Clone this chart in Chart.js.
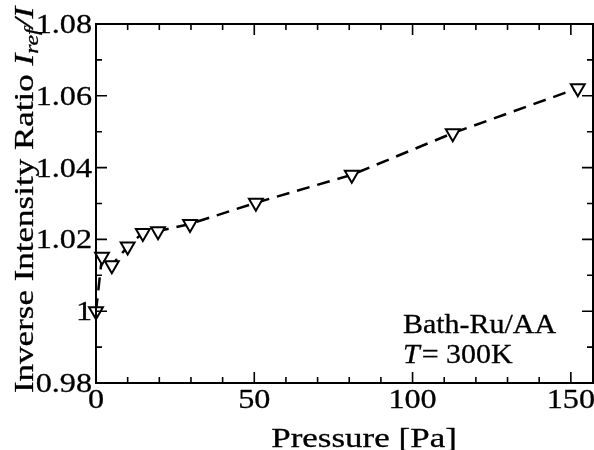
<!DOCTYPE html>
<html>
<head>
<meta charset="utf-8">
<script src="https://cdn.jsdelivr.net/npm/chart.js@4/dist/chart.umd.min.js"></script>
<style>
  html, body { margin: 0; padding: 0; background: #fff; }
  #wrap { width: 594px; height: 450px; }
  .preload { position: absolute; left: -999px; font-family: "Liberation Serif"; }
</style>
</head>
<body>
<span class="preload">Abc <i>Italic</i></span>
<div id="wrap"><canvas id="chart" width="594" height="450"></canvas></div>
<script>
// data
const pressure = [0, 1.9, 5, 10, 14.8, 19.6, 29.7, 50.5, 80.8, 112.7, 152.2];
const ratio = [1.000, 1.0152, 1.0128, 1.018, 1.0218, 1.0223, 1.0243, 1.0302, 1.0380, 1.0496, 1.0621];

const xTickValues = [0, 50, 100, 150];
const xTickLabels = ['0', '50', '100', '150'];
const yTickValues = [0.98, 1, 1.02, 1.04, 1.06, 1.08];
const yTickLabels = ['0.98', '1', '1.02', '1.04', '1.06', '1.08'];

const X_MIN = 0, X_MAX = 157;
const Y_MIN = 0.98, Y_MAX = 1.08;
const SERIF = '"Liberation Serif", serif';

function drawText(ctx, text, x, y, font, align, sx) {
    ctx.save();
    ctx.translate(x, y);
    ctx.scale(sx || 1, 1);
    ctx.font = font;
    ctx.textAlign = align || 'left';
    ctx.textBaseline = 'alphabetic';
    ctx.fillStyle = '#000';
    ctx.strokeStyle = '#000';
    ctx.lineWidth = 0.3;
    ctx.fillText(text, 0, 0);
    ctx.strokeText(text, 0, 0);
    ctx.restore();
}

// frame, inward ticks, labels and annotation
const framePlugin = {
    id: 'frame',
    afterDraw(chart) {
        const ctx = chart.ctx;
        const a = chart.chartArea;
        const xs = chart.scales.x, ys = chart.scales.y;

        ctx.save();
        ctx.strokeStyle = '#000';
        ctx.lineWidth = 2;
        ctx.strokeRect(a.left, a.top, a.right - a.left, a.bottom - a.top);

        ctx.lineWidth = 1.6;
        ctx.beginPath();
        for (let i = 0; i * 10 <= X_MAX; i++) {
            const px = xs.getPixelForValue(i * 10);
            const len = (i % 5 === 0) ? 11 : 6;
            ctx.moveTo(px, a.bottom); ctx.lineTo(px, a.bottom - len);
            ctx.moveTo(px, a.top); ctx.lineTo(px, a.top + len);
        }
        for (let i = 0; i <= 10; i++) {
            const py = ys.getPixelForValue(Y_MIN + i * 0.01);
            const len = (i % 2 === 0) ? 11 : 6;
            ctx.moveTo(a.left, py); ctx.lineTo(a.left + len, py);
            ctx.moveTo(a.right, py); ctx.lineTo(a.right - len, py);
        }
        ctx.stroke();
        ctx.restore();

        const tickFont = '28px ' + SERIF;
        xTickValues.forEach((v, i) => {
            drawText(ctx, xTickLabels[i], xs.getPixelForValue(v), 408, tickFont, 'center', 1.15);
        });
        yTickValues.forEach((v, i) => {
            drawText(ctx, yTickLabels[i], 92, ys.getPixelForValue(v) + 9, tickFont, 'right', 1.15);
        });

        // x title
        drawText(ctx, 'Pressure [Pa]', 364, 447, '28px ' + SERIF, 'center', 1.25);

        // y title with italic I_ref / I
        const segs = [
            { t: 'Inverse Intensity Ratio ', f: '28px ' + SERIF, dy: 0 },
            { t: 'I', f: 'italic 28px ' + SERIF, dy: 0 },
            { t: 'ref', f: 'italic 19px ' + SERIF, dy: 5 },
            { t: '/I', f: 'italic 28px ' + SERIF, dy: 0 }
        ];
        const sy = 1.25;
        ctx.save();
        let total = 0;
        segs.forEach(s => { ctx.font = s.f; s.w = ctx.measureText(s.t).width * sy; total += s.w; });
        ctx.translate(33, 200);
        ctx.rotate(-Math.PI / 2);
        let cx = -total / 2;
        segs.forEach(s => {
            drawText(ctx, s.t, cx, s.dy, s.f, 'left', sy);
            cx += s.w;
        });
        ctx.restore();

        // annotation
        drawText(ctx, 'Bath-Ru/AA', 403, 333, '28px ' + SERIF, 'left', 1.07);
        ctx.save();
        ctx.font = 'italic 28px ' + SERIF;
        const tw = ctx.measureText('T').width * 1.07;
        ctx.restore();
        drawText(ctx, 'T', 403, 363, 'italic 28px ' + SERIF, 'left', 1.07);
        drawText(ctx, '= 300K', 403 + tw + 2, 363, '28px ' + SERIF, 'left', 1.07);
    }
};

function buildChart() {
    new Chart(document.getElementById('chart'), {
        type: 'scatter',
        data: {
            datasets: [{
                data: pressure.map((p, i) => ({ x: p, y: ratio[i] })),
                showLine: true,
                borderColor: '#000',
                borderWidth: 2.5,
                borderDash: [13, 8],
                pointStyle: 'triangle',
                rotation: 180,
                pointRadius: 8,
                pointBorderWidth: 2,
                pointBorderColor: '#000',
                pointBackgroundColor: '#fff',
                clip: false
            }]
        },
        options: {
            responsive: false,
            animation: false,
            layout: { autoPadding: false, padding: { top: 24, right: 1, left: 0, bottom: 0 } },
            plugins: { legend: { display: false }, tooltip: { enabled: false } },
            scales: {
                x: {
                    type: 'linear', min: X_MIN, max: X_MAX,
                    grid: { display: false, drawTicks: false },
                    border: { display: false },
                    ticks: { display: false },
                    afterFit(scale) { scale.height = 67; }
                },
                y: {
                    type: 'linear', min: Y_MIN, max: Y_MAX,
                    grid: { display: false, drawTicks: false },
                    border: { display: false },
                    ticks: { display: false },
                    afterFit(scale) { scale.width = 96; }
                }
            }
        },
        plugins: [framePlugin]
    });
}

Promise.all([
    document.fonts.load('28px "Liberation Serif"'),
    document.fonts.load('italic 28px "Liberation Serif"')
]).then(buildChart, buildChart);
</script>
</body>
</html>
